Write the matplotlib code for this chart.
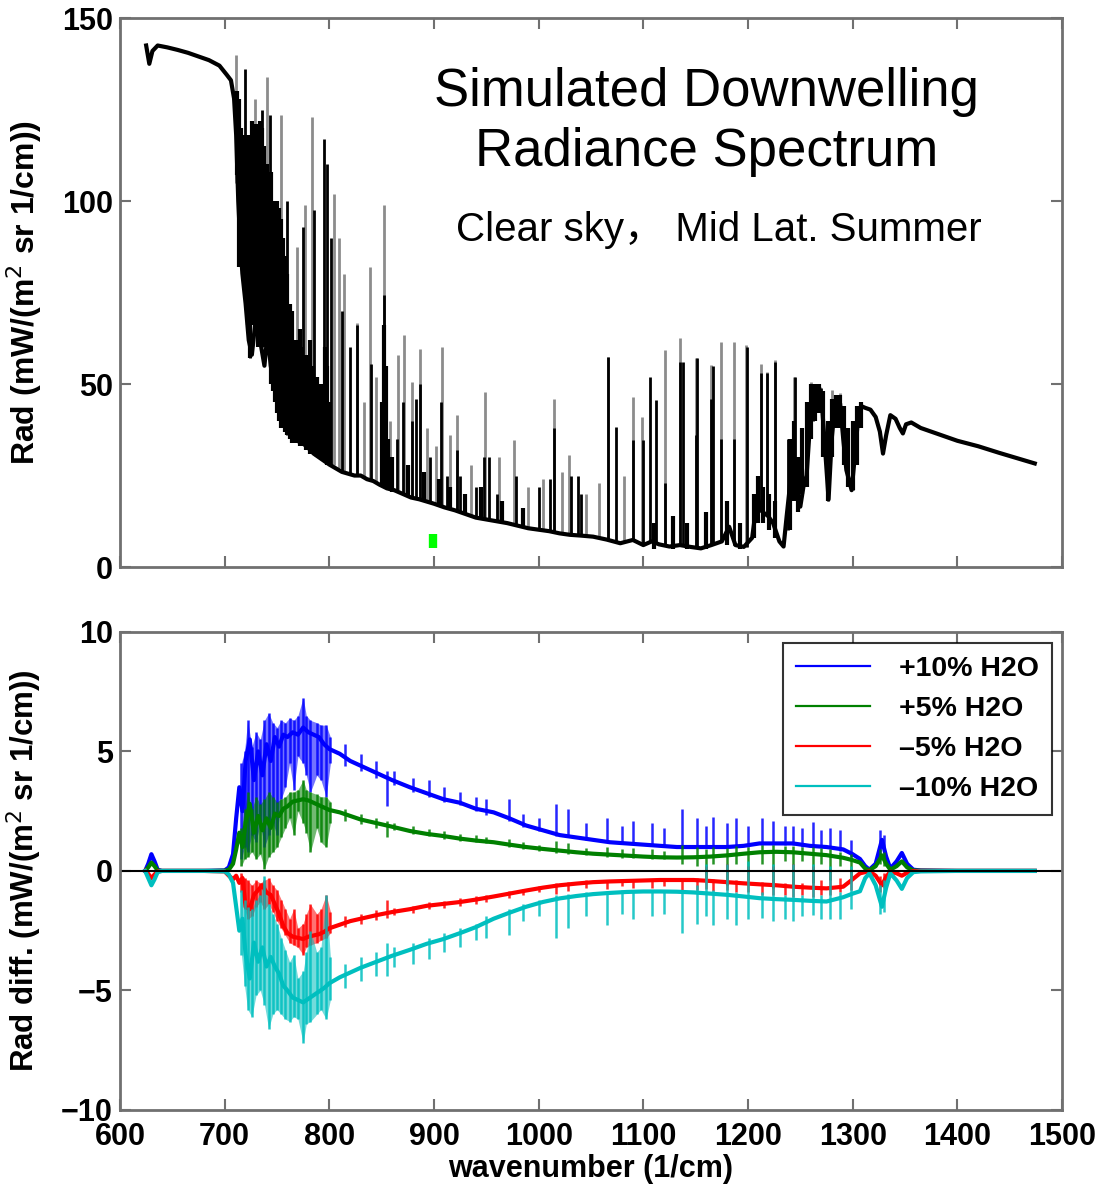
import numpy as np
import matplotlib
matplotlib.use("Agg")
import matplotlib.pyplot as plt

plt.rcParams['font.family'] = ['Liberation Sans', 'Noto Sans CJK SC', 'DejaVu Sans']

# ---- top panel: simulated downwelling radiance
rad_x = [625, 628, 631, 636, 645, 655, 665, 675, 685, 695, 702, 706, 709, 711, 713, 715, 717,
         720, 723, 726, 729, 732, 735, 738, 741, 744, 747, 750, 753, 756, 760, 764, 768, 772,
         776, 780, 785, 790, 795, 800, 806, 812, 818, 824, 830, 836, 842, 848, 855, 862, 870,
         878, 886, 893, 900, 910, 920, 930, 940, 950, 960, 970, 980, 990, 1000, 1010, 1020,
         1030, 1040, 1052, 1065, 1078, 1090, 1100, 1108, 1115, 1125, 1135, 1145, 1155, 1165,
         1175, 1182, 1188, 1196, 1204, 1209, 1214, 1219, 1224, 1230, 1234, 1237, 1240, 1243,
         1246, 1250, 1253, 1256, 1259, 1262, 1266, 1270, 1273, 1277, 1280, 1283, 1288, 1291,
         1294, 1299, 1302, 1305, 1308, 1312, 1317, 1322, 1326, 1329, 1332, 1336, 1341, 1345,
         1348, 1351, 1356, 1365, 1380, 1400, 1420, 1440, 1460, 1474]
rad_y = [142.5, 137.5, 141, 142.5, 142, 141.3, 140.5, 139.5, 138.5, 137, 134.5, 133, 128, 118,
         100, 88, 80, 72, 62, 58, 66, 72, 60, 55, 64, 55, 50, 46, 42, 40, 38, 36, 35, 34,
         33.5, 32.5, 31, 30, 29, 28, 27, 26, 25.5, 25, 25, 24, 23.5, 22.5, 21.5, 21, 20,
         19, 18.5, 17.9, 17.3, 16.3, 15.5, 14.5, 13.5, 13, 12.5, 12, 11.3, 10.6, 10.2, 9.8, 9.2,
         8.8, 8.6, 8.3, 7.5, 6.5, 7.4, 6, 7, 6.2, 5.6, 6, 5.5, 5.1, 6,
         7, 11, 6, 5.5, 8, 19, 15, 14, 12, 7, 5.6, 14, 22, 33,
         20, 16.5, 22, 25, 38, 49, 48, 47, 35, 18.5, 35, 44, 44.7, 35,
         26.5, 21, 30, 40, 44, 43.5, 43, 41, 37, 31, 36, 41.5, 40.5, 38,
         36.5, 39, 39.5, 38, 36.5, 34.5, 33, 31.2, 29.5, 28.3]

# dense black clusters of lines
band_x = [712, 714, 716, 718, 720, 722, 724, 726, 728, 730, 732, 734, 736, 738,
          740, 742, 744, 746, 748, 750, 752, 754, 756, 758, 760, 762, 764, 766,
          768, 770, 772, 774, 776, 778, 780, 782, 784, 786, 788, 790, 792, 794, 796, 798, 800,
          850, 852, 854, 856, 860, 875, 890, 905, 915, 930, 945, 965, 985,
          1110, 1128, 1142, 1160, 1180, 1192, 1206, 1210, 1214, 1220, 1226,
          1240, 1244, 1248, 1252, 1256, 1260, 1264, 1268, 1272, 1276, 1280, 1284, 1288,
          1292, 1296, 1300, 1304, 1308]
band_lo = [107, 82, 85, 80, 75, 66, 57, 66, 70, 64, 60, 64, 62, 60,
           64, 58, 50, 48, 45, 42, 40, 38, 38, 37, 36, 35, 34, 34,
           34, 34, 33, 33, 33, 32, 32, 31, 31, 31, 30, 30, 30, 29, 29, 28, 28,
           22, 22, 21.5, 21.5, 20.5, 19, 18, 16.5, 16, 14.5, 13.3, 12.3, 11,
           5, 5, 5, 5, 6, 5, 8, 12, 12, 10, 8,
           10, 18, 15, 20, 22, 35, 40, 42, 30, 18, 30, 38, 38,
           28, 22, 21, 28, 38]
band_hi = [130, 128, 120, 118, 115, 118, 112, 122, 121, 121, 118, 122, 120, 115,
           110, 105, 108, 100, 95, 100, 98, 95, 90, 85, 80, 72, 70, 60,
           62, 58, 65, 60, 55, 58, 50, 62, 55, 48, 52, 45, 50, 47, 60, 55, 45,
           45, 66, 55, 35, 30, 28, 26, 24, 22, 20, 22, 18, 16,
           12, 14, 12, 15, 18, 12, 20, 25, 22, 20, 18,
           35, 40, 30, 38, 45, 50, 50, 50, 48, 40, 46, 47, 47,
           44, 38, 40, 44, 45]

# single lines drawn light grey (full height)
grey_x = [711, 729, 740, 754, 769, 777, 783, 804, 809, 814, 826, 839, 852, 866, 871, 879,
          887, 908, 922, 949, 976, 1015, 1029, 1066, 1090, 1099, 1121, 1135, 1150, 1165,
          1174, 1187, 1198, 1212, 1218, 1226, 1244, 1260, 1269, 1280, 1288,
          833, 845, 858, 893, 902, 915, 935, 962, 990, 1004, 1022, 1045, 1058, 1082]
grey_top = [140, 128, 134, 123.5, 87.5, 99, 123, 102, 90, 80, 66.6, 82, 99, 58, 63.4, 50.6,
            59.7, 60.2, 41.5, 47.9, 34.7, 46, 30.6, 57.5, 46.5, 41, 59.3, 62.5, 57, 55.2,
            61.6, 61.6, 60.7, 55.6, 53.4, 56.6, 52, 50.6, 49.3, 48.4, 47.5,
            45, 52, 40, 38, 33, 36, 28, 30, 22, 24, 26, 20, 23, 25]
grey_bot = [105, 70, 70, 45, 35, 33, 32, 28, 27, 26, 25, 24, 22.5, 21, 20, 19,
            18.5, 16.5, 15.5, 13, 11.5, 9.5, 8.8, 7.5, 7.4, 6.5, 5.8, 6, 5.3, 6,
            7, 6, 5.5, 15, 14, 12, 25, 40, 47, 35, 44,
            24.5, 23, 21.5, 18, 17, 16, 14, 12.5, 10.6, 10.2, 9.2, 8.6, 8, 6.8]

# single lines drawn black
dark_x = [719, 724, 736, 743, 760, 775, 785, 795, 798, 802, 812, 820, 826, 840, 852, 865,
          870, 879, 883, 887, 896, 907, 912, 922, 925, 940, 948, 953, 960, 978, 1000, 1011,
          1015, 1031, 1038, 1040, 1066, 1074, 1090, 1100, 1106, 1112, 1121, 1135, 1138,
          1150, 1151, 1165, 1167, 1174, 1187, 1199, 1212, 1218, 1226, 1238, 1245, 1262,
          1270, 1276, 1284, 1300, 1304]
dark_top = [136, 118, 125, 123.5, 100, 93, 97.5, 117, 110, 90, 70, 60, 66, 55.6, 74.3, 35,
            45, 40, 46, 50, 30, 45, 25, 32, 25, 22, 30, 30, 20, 25, 22, 24,
            38, 25, 25, 20, 57.5, 38.3, 34.7, 34.7, 52, 45.6, 23, 56, 56,
            36, 57, 46, 55, 35, 35, 60, 52.9, 53, 56, 35, 52, 49,
            49, 25, 47, 35, 38]
dark_bot = [100, 57, 60, 55, 36, 34, 31, 29, 29, 28, 26, 25.5, 25, 24, 22.5, 21,
            20, 19, 18.7, 18.5, 17.8, 16.5, 16.3, 15.5, 15.3, 13.5, 13, 12.8, 12.5, 11.4, 10.2, 9.8,
            9.5, 8.8, 8.6, 8.6, 7.5, 7, 7.4, 6, 7, 6.5, 5.8, 6, 6,
            5.3, 5.3, 6, 6, 7, 6, 5.5, 15, 14, 12, 10, 25, 40,
            45, 18, 40, 21, 30]

mark_x = [899, 899]
mark_y = [5.2, 9.0]

# ---- bottom panel: radiance differences for perturbed water vapour
diff_x = [624, 627, 630, 633, 636, 640, 660, 680, 700, 704, 708, 711, 714, 717, 720, 724, 728,
          732, 736, 740, 744, 748, 752, 756, 760, 765, 770, 775, 780, 785, 790, 795, 800, 810,
          820, 830, 845, 860, 877, 893, 909, 925, 940, 957, 972, 988, 1004, 1020, 1036, 1052,
          1068, 1084, 1100, 1116, 1132, 1148, 1164, 1180, 1196, 1211, 1227, 1243, 1259, 1275,
          1291, 1300, 1307, 1312, 1316, 1322, 1328, 1332, 1336, 1342, 1347, 1352, 1358, 1365,
          1400, 1474]
p10 = [0.0, 0.3, 0.7, 0.4, 0.05, 0, 0, 0, 0.02, 0.15, 0.7, 2.2, 3.5, 2.5, 4.6, 5.5, 3.8,
       5.0, 4.0, 5.3, 4.6, 5.6, 5.2, 5.7, 5.6, 5.8, 5.7, 6.0, 5.8, 5.7, 5.6, 5.3, 5.1, 4.9,
       4.6, 4.4, 4.1, 3.8, 3.5, 3.25, 3.0, 2.85, 2.6, 2.45, 2.2, 1.9, 1.7, 1.5, 1.4, 1.3,
       1.2, 1.15, 1.1, 1.05, 1.0, 1.0, 1.0, 1.0, 1.05, 1.15, 1.15, 1.15, 1.05, 1.0,
       0.9, 0.7, 0.5, 0.2, 0.05, 0.3, 1.3, 0.6, 0.1, 0.4, 0.75, 0.3, 0.05, 0.02,
       0, 0]
p5 = [0, 0.15, 0.35, 0.2, 0.02, 0, 0, 0, 0.01, 0.05, 0.3, 0.9, 1.6, 1.0, 2.0, 2.8, 1.6,
      2.3, 1.7, 2.2, 1.8, 2.4, 2.3, 2.6, 2.7, 2.9, 2.95, 3.0, 2.95, 2.85, 2.75, 2.65, 2.55, 2.45,
      2.3, 2.15, 2.0, 1.85, 1.67, 1.55, 1.46, 1.35, 1.27, 1.2, 1.1, 1.0, 0.92, 0.85, 0.78, 0.72,
      0.68, 0.64, 0.6, 0.57, 0.56, 0.57, 0.6, 0.65, 0.72, 0.78, 0.8, 0.78, 0.72, 0.66,
      0.55, 0.45, 0.35, 0.1, 0.03, 0.2, 0.65, 0.3, 0.05, 0.2, 0.4, 0.15, 0.02, 0.01,
      0, 0]
m5 = [0, -0.12, -0.3, -0.15, -0.02, 0, 0, 0, -0.02, -0.2, -0.35, -0.2, -0.5, -0.3, -1.5, -1.6, -1.0,
      -0.8, -0.6, -0.9, -1.0, -1.4, -1.8, -2.3, -2.6, -2.75, -2.8, -2.85, -2.75, -2.7, -2.65, -2.55, -2.4, -2.25,
      -2.1, -2.0, -1.85, -1.72, -1.6, -1.46, -1.38, -1.3, -1.2, -1.07, -0.95, -0.82, -0.7, -0.6, -0.53, -0.47,
      -0.44, -0.42, -0.4, -0.38, -0.38, -0.38, -0.42, -0.47, -0.52, -0.56, -0.6, -0.66, -0.7, -0.73,
      -0.66, -0.35, -0.1, -0.05, -0.02, -0.2, -0.6, -0.25, -0.03, -0.1, -0.2, -0.08, -0.01, 0,
      0, 0]
m10 = [0, -0.3, -0.6, -0.35, -0.05, 0, 0, 0, -0.02, -0.15, -0.5, -1.5, -2.5, -2.0, -3.5, -4.5, -3.0,
       -3.8, -3.2, -4.0, -3.6, -4.0, -4.3, -4.8, -5.0, -5.3, -5.4, -5.5, -5.35, -5.2, -5.05, -4.9, -4.7, -4.45,
       -4.25, -4.05, -3.8, -3.55, -3.3, -3.05, -2.85, -2.6, -2.35, -2.0, -1.75, -1.5, -1.3, -1.15, -1.05, -0.97,
       -0.92, -0.88, -0.86, -0.86, -0.87, -0.9, -0.95, -1.0, -1.07, -1.14, -1.18, -1.21, -1.25, -1.28,
       -1.1, -0.95, -0.85, -0.3, -0.1, -0.6, -1.5, -0.7, -0.1, -0.4, -0.75, -0.3, -0.05, -0.02,
       0, 0]

# line-by-line spread around each difference curve
spk_x = [716, 719, 722, 726, 730, 734, 738, 742, 746, 750, 754, 758, 762, 766, 770, 775, 778,
         782, 788, 792, 797, 801, 815, 830, 845, 855, 862, 880, 895, 910, 925, 940, 950, 972,
         985, 1000, 1017, 1028, 1045, 1065, 1080, 1090, 1108, 1120, 1137, 1151, 1160, 1167,
         1180, 1189, 1200, 1213, 1224, 1235, 1243, 1252, 1262, 1270, 1278, 1288, 1298, 1326, 1330]
p10_lo = [0.5, 1.0, 0.8, 1.5, 1.2, 2.0, 1.0, 1.5, 2.0, 1.5, 3.0, 3.5, 4.5, 3.4, 4.8, 4.5, 4.0,
          3.3, 4.0, 3.8, 3.1, 4.5, 4.4, 4.2, 3.9, 2.7, 3.6, 3.3, 3.1, 2.9, 2.75, 2.5, 2.35, 2.1,
          1.85, 1.65, 1.45, 1.4, 1.3, 1.2, 1.15, 1.15, 1.05, 1.0, 1.0, 1.0, 0.95, 0.95,
          0.95, 1.0, 1.0, 1.1, 1.1, 1.1, 1.1, 1.0, 1.0, 1.0, 0.95, 0.85, 0.6, 0.6, 0.8]
p10_hi = [4.5, 5.0, 6.3, 5.2, 5.8, 5.5, 6.3, 6.6, 6.2, 6.0, 6.3, 6.2, 6.4, 6.3, 6.5, 7.25, 6.5,
          6.3, 6.2, 6.1, 6.1, 5.6, 5.3, 4.9, 4.6, 4.2, 4.2, 3.9, 3.8, 3.5, 3.3, 3.1, 3.0, 3.0,
          2.4, 2.2, 2.8, 2.6, 2.0, 2.2, 1.9, 2.1, 2.0, 1.8, 2.6, 2.2, 1.9, 2.27,
          2.0, 2.2, 1.9, 2.2, 2.1, 1.9, 1.9, 1.8, 2.06, 1.7, 1.8, 1.7, 1.3, 1.7, 1.5]
p5_lo = [0.2, 0.5, 0.6, 0.8, 0.5, 0.7, 0.1, 0.6, 0.8, 1.0, 1.4, 1.8, 2.2, 1.5, 2.5, 2.0, 1.6,
         0.8, 1.8, 1.2, 1.0, 2.0, 2.1, 1.95, 1.8, 1.4, 1.7, 1.55, 1.45, 1.35, 1.25, 1.2, 1.15, 1.0,
         0.9, 0.85, 0.75, 0.7, 0.65, 0.6, 0.55, 0.55, 0.5, 0.5, 0.3, 0.2, -0.3, 0.3,
         -0.6, 0.3, -0.4, 0.3, -0.7, 0.4, -0.6, 0.4, -0.5, 0.3, -0.4, 0.2, -0.3, 0.3, 0.2]
p5_hi = [1.8, 2.6, 3.3, 2.6, 3.1, 2.8, 3.0, 3.3, 3.1, 2.9, 3.0, 3.1, 3.3, 3.3, 3.4, 3.8, 3.4,
         3.3, 3.2, 3.1, 3.1, 2.9, 2.6, 2.4, 2.2, 2.1, 2.0, 1.9, 1.75, 1.65, 1.55, 1.5, 1.4, 1.35,
         1.2, 1.1, 1.25, 1.15, 0.95, 1.0, 0.9, 0.95, 0.9, 0.85, 1.1, 1.0, 0.9, 1.0,
         0.95, 1.05, 1.0, 1.1, 1.1, 1.05, 1.05, 1.0, 1.0, 0.95, 0.9, 0.8, 0.7, 0.9, 0.8]
m5_lo = [-0.9, -1.6, -2.0, -1.9, -1.5, -1.3, -1.6, -1.4, -1.7, -2.1, -2.4, -2.7, -3.0, -3.1, -3.2, -3.5, -3.2,
         -3.1, -3.0, -2.9, -2.8, -2.6, -2.35, -2.2, -2.05, -1.95, -1.85, -1.75, -1.6, -1.55, -1.45, -1.4, -1.3, -1.15,
         -1.0, -0.9, -0.95, -0.85, -0.7, -0.75, -0.65, -0.7, -0.7, -0.65, -0.9, -0.8, -0.75, -0.85,
         -0.8, -0.9, -0.9, -1.0, -1.0, -1.0, -1.1, -1.0, -1.1, -1.0, -1.0, -0.9, -0.8, -0.9, -0.7]
m5_hi = [-0.1, -0.3, -0.4, -0.6, -0.4, -0.5, -0.4, -0.3, -0.6, -0.8, -1.2, -1.6, -2.0, -1.6, -2.4, -2.2, -1.8,
         -1.4, -1.8, -1.6, -1.0, -1.7, -1.9, -1.8, -1.65, -1.2, -1.55, -1.45, -1.3, -1.25, -1.15, -1.05, -1.0, -0.85,
         -0.75, -0.65, -0.5, -0.45, -0.4, -0.38, -0.36, -0.35, -0.33, -0.32, -0.3, -0.3, 0.2, -0.35,
         0.3, -0.4, 0.2, -0.45, 0.2, -0.5, 0.3, -0.5, 0.2, -0.4, 0.1, -0.3, 0.1, -0.2, -0.1]
m10_lo = [-3.5, -4.8, -5.8, -6.1, -5.2, -5.0, -5.6, -6.6, -6.0, -5.8, -6.0, -6.2, -6.3, -6.1, -6.2, -7.2, -6.4,
          -6.3, -6.0, -5.8, -6.2, -5.4, -4.9, -4.6, -4.4, -4.4, -4.0, -3.9, -3.7, -3.4, -3.2, -2.9, -2.8, -2.7,
          -2.1, -1.9, -2.8, -2.4, -1.9, -2.26, -1.8, -2.0, -1.9, -1.8, -2.6, -2.2, -1.9, -2.26,
          -2.0, -2.26, -2.0, -1.98, -2.1, -2.0, -2.1, -1.9, -1.84, -2.0, -2.0, -2.0, -1.6, -1.8, -1.7]
m10_hi = [-0.8, -1.2, -1.5, -1.6, -1.2, -1.0, -0.2, -1.4, -1.8, -2.2, -2.8, -3.3, -3.8, -3.5, -4.5, -4.2, -3.4,
          -2.5, -3.4, -3.2, -1.0, -3.6, -3.9, -3.6, -3.4, -3.0, -3.2, -3.0, -2.8, -2.6, -2.4, -2.2, -1.9, -1.6,
          -1.4, -1.2, -1.0, -0.95, -0.9, -0.85, -0.8, -0.8, -0.8, -0.8, -0.8, -0.6, 0.3, -0.8,
          0.3, -0.9, 0.4, -0.9, 0.3, -1.0, 0.3, -1.0, 0.3, -1.0, 0.2, -0.9, 0.2, -0.6, -0.4]

labels = ['+10% H2O', '+5% H2O', '\u20135% H2O', '\u201310% H2O']
colors = ['#0000ff', '#008000', '#ff0000', '#00bfbf']
n_dense = 22  # spread entries up to 801 1/cm form a filled band

fig = plt.figure(figsize=(11.09, 11.88), dpi=100)
ax1 = fig.add_axes([0.1082, 0.5227, 0.8494, 0.4621])
ax2 = fig.add_axes([0.1082, 0.0657, 0.8494, 0.4024])

# top panel
ax1.vlines(grey_x, grey_bot, grey_top, color='#8c8c8c', lw=2.0)
ax1.vlines(band_x, band_lo, band_hi, color='black', lw=3.0)
ax1.vlines(dark_x, dark_bot, dark_top, color='black', lw=2.0)
ax1.plot(rad_x, rad_y, color='black', lw=3.0)
ax1.plot(mark_x, mark_y, color='#00ff00', lw=6, solid_capstyle='butt')
ax1.set_ylim(0, 150)
ax1.set_yticks([0, 50, 100, 150])
ax1.set_ylabel('Rad (mW/(m$^2$ sr 1/cm))', fontsize=23, fontweight='bold')
ax1.text(0.623, 0.81, 'Simulated Downwelling\nRadiance Spectrum', transform=ax1.transAxes,
         ha='center', va='center', fontsize=38, linespacing=1.25)
ax1.text(0.636, 0.614, 'Clear sky\uff0c Mid Lat. Summer', transform=ax1.transAxes,
         ha='center', va='center', fontsize=29)
ax1.set_xticklabels([])

# bottom panel
series = [p10, p5, m5, m10]
lows = [p10_lo, p5_lo, m5_lo, m10_lo]
highs = [p10_hi, p5_hi, m5_hi, m10_hi]
for s, lo, hi, c, lab in zip(series, lows, highs, colors, labels):
    ax2.fill_between(spk_x[:n_dense], lo[:n_dense], hi[:n_dense], color=c, alpha=0.55, lw=0)
    ax2.vlines(spk_x, lo, hi, color=c, lw=1.8, alpha=0.85)
    ax2.plot(diff_x, s, color=c, lw=3.0, label=lab)
ax2.axhline(0, color='black', lw=1.5)
ax2.set_ylim(-10, 10)
ax2.set_yticks([-10, -5, 0, 5, 10])
ax2.set_yticklabels(['\u221210', '\u22125', '0', '5', '10'])
ax2.set_ylabel('Rad diff. (mW/(m$^2$ sr 1/cm))', fontsize=22.5, fontweight='bold')
ax2.set_xlabel('wavenumber (1/cm)', fontsize=22, fontweight='bold', labelpad=1)
leg = ax2.legend(loc='upper right', bbox_to_anchor=(0.989, 0.977), borderaxespad=0,
                 prop={'weight': 'bold', 'size': 20.5}, frameon=True, fancybox=False,
                 edgecolor='black', handlelength=2.6, handletextpad=1.0,
                 labelspacing=0.5, borderpad=0.45)
leg.get_frame().set_linewidth(1.5)
for ln in leg.get_lines():
    ln.set_linewidth(1.6)

for ax in (ax1, ax2):
    ax.set_xlim(600, 1500)
    ax.set_xticks(np.arange(600, 1501, 100))
    ax.tick_params(direction='in', length=8, width=1.5, top=True, right=True,
                   labelsize=22, color='#707070', pad=5)
    ax.tick_params(axis='x', pad=9)
    for lab in ax.get_xticklabels() + ax.get_yticklabels():
        lab.set_fontweight('bold')
    for sp in ax.spines.values():
        sp.set_color('#707070')
        sp.set_linewidth(2)
    ax.yaxis.set_label_coords(-0.081, 0.5)

fig.savefig('out.png', dpi=100)
